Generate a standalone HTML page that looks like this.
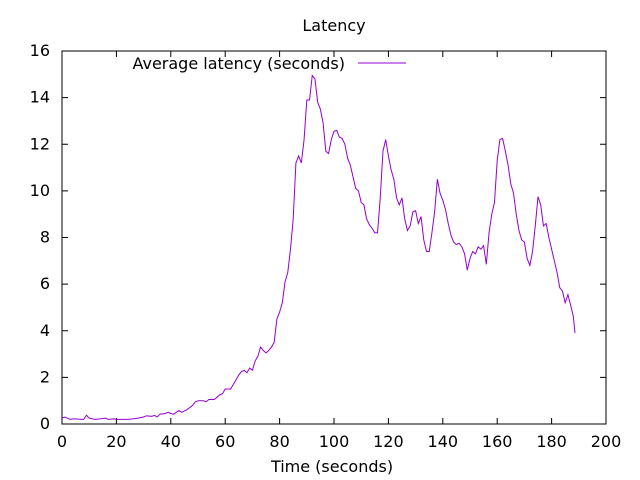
<!DOCTYPE html>
<html><head><meta charset="utf-8"><style>body{margin:0;background:#fff}svg{display:block}text{font-family:"DejaVu Sans","Liberation Sans",sans-serif;font-size:16px;fill:#000}</style></head>
<body>
<svg id="chart" width="640" height="480">
<text x="334" y="31" text-anchor="middle">Latency</text>
<text x="332" y="472" text-anchor="middle">Time (seconds)</text>
<g id="axes"></g>
<rect x="62" y="51" width="544" height="373" fill="none" stroke="#000" stroke-width="1"/>
<g>
<text x="345" y="69" text-anchor="end">Average latency (seconds)</text>
<line x1="358" y1="63" x2="406" y2="63" stroke="#9400d3" stroke-width="1"/>
</g>
<polyline id="series" fill="none" stroke="#9400d3" stroke-width="1"/>
</svg>
<script>
const times=[0,1,2,3,4,5,7,8,9,10,12,14,16,17,19,20,22,24,26,28,30,31,33,34,35,36,38,39,40,41,42,43,44,46,48,49,50,52,53,54,56,57,58,59,60,62,63,64,65,66,67,68,69,70,71,72,73,74,75,76,77,78,79,80,81,82,83,84,85,86,87,88,89,90,91,92,93,94,95,96,97,98,99,100,101,102,103,104,105,106,107,108,109,110,111,112,113,114,115,116,117,118,119,120,121,122,123,124,125,126,127,128,129,130,131,132,133,134,135,136,137,138,139,140,141,142,143,144,145,146,147,148,149,150,151,152,153,154,155,156,157,158,159,160,161,162,163,164,165,166,167,168,169,170,171,172,173,174,175,176,177,178,179,180,181,182,183,184,185,186,187,188,188.6];
const latency=[0.25,0.3,0.25,0.2,0.22,0.22,0.2,0.2,0.38,0.25,0.2,0.22,0.25,0.2,0.22,0.2,0.2,0.2,0.22,0.25,0.3,0.35,0.33,0.37,0.3,0.42,0.45,0.5,0.45,0.42,0.5,0.58,0.5,0.62,0.8,0.95,1.0,1.0,0.95,1.05,1.05,1.15,1.25,1.3,1.5,1.5,1.7,1.9,2.1,2.25,2.3,2.2,2.4,2.3,2.7,2.9,3.3,3.15,3.05,3.15,3.3,3.5,4.5,4.8,5.2,6.1,6.5,7.5,8.8,11.2,11.5,11.2,12.2,13.9,13.9,14.95,14.8,13.8,13.5,12.9,11.7,11.6,12.2,12.55,12.6,12.3,12.25,12.0,11.4,11.1,10.6,10.1,10.0,9.5,9.4,8.8,8.55,8.4,8.2,8.2,9.7,11.7,12.2,11.5,10.9,10.5,9.7,9.4,9.7,8.8,8.3,8.5,9.1,9.15,8.6,8.9,7.9,7.4,7.4,8.2,9.1,10.5,9.9,9.6,9.2,8.6,8.1,7.8,7.7,7.75,7.6,7.3,6.6,7.1,7.4,7.3,7.6,7.5,7.65,6.85,8.2,9.0,9.5,11.3,12.2,12.25,11.7,11.1,10.3,9.9,9.0,8.3,7.9,7.8,7.1,6.8,7.4,8.5,9.75,9.4,8.5,8.6,8.0,7.5,7.0,6.5,5.85,5.7,5.2,5.55,5.1,4.6,3.9];
const xTicks=[0,20,40,60,80,100,120,140,160,180,200];
const yTicks=[0,2,4,6,8,10,12,14,16];
const NS="http://www.w3.org/2000/svg";
const X=v=>62+v*544/200, Y=v=>424-v*373/16;
const ax=document.getElementById('axes');
function mk(t,a){const e=document.createElementNS(NS,t);for(const k in a)e.setAttribute(k,a[k]);return e;}
xTicks.forEach(t=>{
  const l=mk('path',{d:`M${X(t)},424v-6M${X(t)},51v6`,stroke:'#000'});
  
  
  ax.appendChild(l);
  const tx=mk('text',{x:X(t),y:447,'text-anchor':'middle'});tx.textContent=t;
  
  
  ax.appendChild(tx);
});
yTicks.forEach(t=>{
  const l=mk('path',{d:`M62,${Y(t)}h6M606,${Y(t)}h-6`,stroke:'#000'});
  
  
  ax.appendChild(l);
  const tx=mk('text',{x:50,y:Y(t)+5,'text-anchor':'end'});tx.textContent=t;
  
  
  ax.appendChild(tx);
});
document.getElementById('series').setAttribute('points',times.map((t,i)=>X(t)+','+Y(latency[i])).join(' '));
</script>
</body></html>
